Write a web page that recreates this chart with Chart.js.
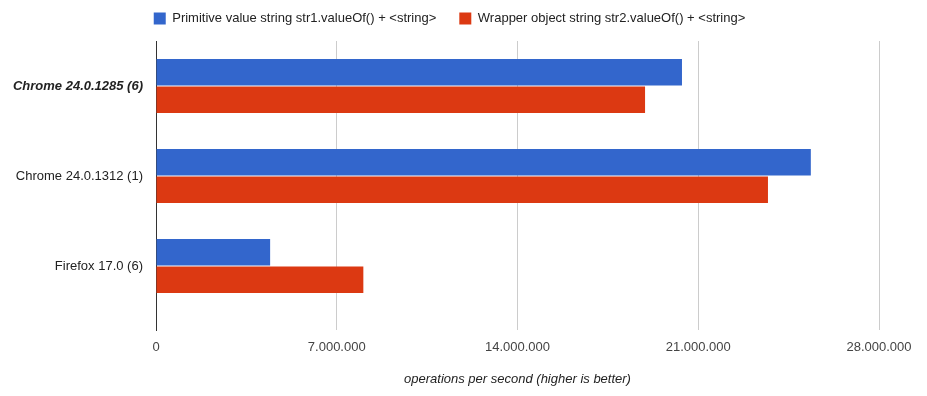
<!DOCTYPE html>
<html>
<head>
<meta charset="utf-8">
<script src="https://cdn.jsdelivr.net/npm/chart.js@4/dist/chart.umd.min.js"></script>
<style>
  html, body { margin: 0; padding: 0; background: #fff; }
  #wrap { width: 927px; height: 396px; }
</style>
</head>
<body>
<div id="wrap"><canvas id="chart" width="927" height="396"></canvas></div>
<script>
// browsers (first one is highlighted in the original)
const browsers = ['Chrome 24.0.1285 (6)', 'Chrome 24.0.1312 (1)', 'Firefox 17.0 (6)'];
const primitiveOps = [20370000, 25360000, 4420000];
const wrapperOps = [18940000, 23700000, 8030000];
const xTicks = [0, 7000000, 14000000, 21000000, 28000000];

const fontFamily = 'Arial, "Liberation Sans", sans-serif';

// dotted thousands separator like the original
function fmt(v) {
    return String(Math.round(v)).replace(/\B(?=(\d{3})+(?!\d))/g, '.');
}

// each browser sits in its own band, centred on i + 0.5
const rows = browsers.map((b, i) => i + 0.5);

// legend: fixed height, and centred a bit more to the right like the original
const legendTweak = {
    id: 'legendTweak',
    beforeInit(chart) {
        const fit = chart.legend.fit;
        chart.legend.fit = function () {
            fit.bind(chart.legend)();
            this.height = 52;
        };
    },
    afterLayout(chart) {
        chart.legend.left = 20;
    }
};

new Chart(document.getElementById('chart'), {
    type: 'bar',
    data: {
        datasets: [
            {
                label: 'Primitive value string str1.valueOf() + <string>',
                data: primitiveOps.map((v, i) => ({ x: v, y: rows[i] })),
                backgroundColor: '#3366cc',
                categoryPercentage: 0.61,
                barPercentage: 0.96
            },
            {
                label: 'Wrapper object string str2.valueOf() + <string>',
                data: wrapperOps.map((v, i) => ({ x: v, y: rows[i] })),
                backgroundColor: '#dc3912',
                categoryPercentage: 0.61,
                barPercentage: 0.96
            }
        ]
    },
    options: {
        indexAxis: 'y',
        responsive: false,
        animation: false,
        layout: { padding: { left: 0, right: 48, top: -11, bottom: 0 } },
        scales: {
            x: {
                type: 'linear',
                min: 0,
                max: 28000000,
                afterBuildTicks: axis => { axis.ticks = xTicks.map(v => ({ value: v })); },
                afterFit: axis => { axis.height = 66; },
                grid: { color: '#cccccc', drawTicks: false },
                border: { display: false },
                ticks: {
                    padding: 10,
                    color: '#444444',
                    font: { family: fontFamily, size: 13 },
                    callback: v => fmt(v)
                },
                title: {
                    display: true,
                    text: 'operations per second (higher is better)',
                    color: '#222222',
                    font: { family: fontFamily, size: 13, style: 'italic' },
                    padding: { top: 4, bottom: 9 }
                }
            },
            y: {
                type: 'linear',
                reverse: true,
                offset: false,
                min: 0,
                max: 3.211,
                afterBuildTicks: axis => { axis.ticks = rows.map(v => ({ value: v })); },
                afterFit: axis => { axis.width = 156; },
                grid: { color: 'transparent', drawTicks: false, offset: false },
                border: { display: true, color: '#333333', width: 1 },
                ticks: {
                    padding: 13,
                    color: '#222222',
                    font: ctx => ctx.index === 0
                        ? { family: fontFamily, size: 13, weight: 'bold', style: 'italic' }
                        : { family: fontFamily, size: 13 },
                    callback: (v, i) => browsers[i]
                }
            }
        },
        plugins: {
            legend: {
                position: 'top',
                labels: {
                    boxWidth: 12,
                    boxHeight: 12,
                    padding: 23,
                    color: '#222222',
                    font: { family: fontFamily, size: 13 }
                }
            },
            tooltip: { enabled: false }
        }
    },
    plugins: [legendTweak]
});
</script>
</body>
</html>
